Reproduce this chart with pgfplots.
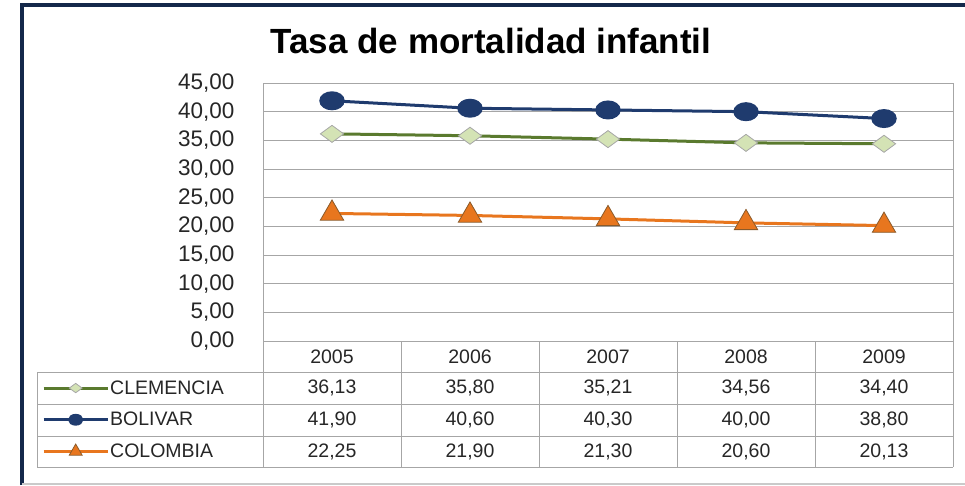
\documentclass[border=0pt]{standalone}
\usepackage{pgfplots}
\pgfplotsset{compat=1.18}
\usepackage{fontspec}
\setmainfont{Liberation Sans}
\definecolor{navy}{HTML}{1F3B6E}
\definecolor{olive}{HTML}{5A7A2E}
\definecolor{lgreen}{HTML}{D4E3B5}
\definecolor{dorange}{HTML}{E8761E}
\definecolor{brownedge}{HTML}{8A5A2A}
\definecolor{framec}{HTML}{14284A}
\definecolor{gridc}{HTML}{A6A6A6}
\begin{document}
\begin{tikzpicture}[x=1pt,y=1pt]
\path[use as bounding box] (0,0) rectangle (965,485);
% frame
\draw[framec, line width=4pt] (22,0) -- (22,480) -- (965,480);
\draw[gridc!60, line width=1.5pt] (22,1) -- (965,1);
% title
\node[font=\bfseries\fontsize{35}{40}\selectfont] at (491,444) {Tasa de mortalidad infantil};
\begin{axis}[
  at={(263pt,144pt)}, anchor=south west,
  scale only axis, width=690pt, height=258pt,
  xmin=-0.5, xmax=4.5, ymin=0, ymax=45,
  ytick={0,5,...,45}, xtick=\empty,
  ymajorgrids, grid style={gridc, line width=1pt},
  axis line style={gridc, line width=1pt},
  major tick length=0pt,
  clip=false,
  yticklabel style={font=\fontsize{22.5}{26}\selectfont, xshift=-25pt, text=black!85,
    /pgf/number format/.cd, fixed, zerofill, precision=2, use comma, assume math mode=true},
  legend style={at={(axis description cs:-0.3203,-0.1202)}, anchor=north west,
    draw=none, fill=none, inner sep=0pt, row sep=0pt, column sep=0pt,
    font=\fontsize{19.5}{22}\selectfont,
    nodes={inner sep=1pt, minimum height=31.7pt, anchor=west, text=black!85}},
  legend cell align=left,
  legend image code/.code={\draw[mark repeat=2,mark phase=2,#1,every mark/.append style={scale=0.55}] plot coordinates {(0pt,0pt) (32pt,0pt) (64pt,0pt)};},
]
\addplot[olive, line width=3pt, mark=diamond*, mark size=15.5pt,
  mark options={fill=lgreen, draw=gridc, line width=0.8pt, yscale=0.55}]
  coordinates {(0,36.13) (1,35.80) (2,35.21) (3,34.56) (4,34.40)};
\addlegendentry{CLEMENCIA}
\addplot[navy, line width=3pt, mark=*, mark size=8pt,
  mark options={fill=navy, draw=navy, xscale=1.4}]
  coordinates {(0,41.90) (1,40.60) (2,40.30) (3,40.00) (4,38.80)};
\addlegendentry{BOLIVAR}
\addplot[dorange, line width=3pt, mark=triangle*, mark size=13.5pt,
  mark options={fill=dorange, draw=brownedge, line width=0.8pt}]
  coordinates {(0,22.25) (1,21.90) (2,21.30) (3,20.60) (4,20.13)};
\addlegendentry{COLOMBIA}
\end{axis}
% table grid
\begin{scope}[gridc, line width=1pt]
\foreach \y in {113,81,49,18} \draw (37,\y) -- (953,\y);
\draw (37,113) -- (37,18);
\foreach \x in {263,401,539,677,815,953} \draw (\x,144) -- (\x,18);
\end{scope}
% table text
\begin{scope}[font=\fontsize{19.5}{22}\selectfont, text=black!85]
\foreach \x/\t in {332/2005,470/2006,608/2007,746/2008,884/2009}
  \node at (\x,128) {\t};
\foreach \x/\t in {332/{36,13},470/{35,80},608/{35,21},746/{34,56},884/{34,40}}
  \node at (\x,97) {\t};
\foreach \x/\t in {332/{41,90},470/{40,60},608/{40,30},746/{40,00},884/{38,80}}
  \node at (\x,65) {\t};
\foreach \x/\t in {332/{22,25},470/{21,90},608/{21,30},746/{20,60},884/{20,13}}
  \node at (\x,33) {\t};
\end{scope}
\end{tikzpicture}
\end{document}
